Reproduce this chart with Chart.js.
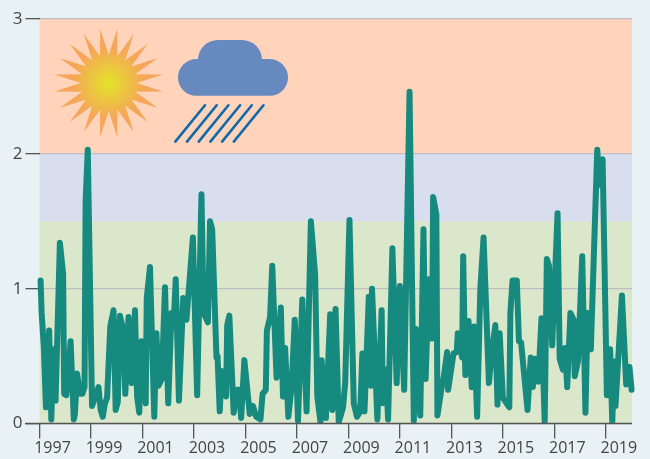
<!DOCTYPE html>
<html><head><meta charset="utf-8">
<style>html,body{margin:0;padding:0;background:#e8f1f3}canvas{display:block}</style>
<script src="https://cdn.jsdelivr.net/npm/chart.js@4"></script></head>
<body><canvas id="c" width="650" height="459"></canvas>
<script>
const tickYears=["1997","1999","2001","2003","2005","2007","2009","2011","2013","2015","2017","2019"];
const yTicks=[0,1,2,3];
const bandEdges=[0,1.5,2,3];
const bandColors=["#dbe7cb","#d9deee","#ffd4bb"];
// months since January 1997
const months=[0.5,1,2,3,4.5,5.5,6.5,7.5,9.5,11,11.5,12.5,14.5,16,16.5,17.5,19,20,21,21.5,22.5,24.5,26,27.5,28.5,29.5,30.5,31.5,33,34.5,35.5,36.5,37.5,39,40,41.5,43,43.5,44.5,45.5,46.5,47.5,48.5,49.5,50,51.5,53.5,54.5,55.5,57,58.5,60,61.5,62.5,63.5,65,67,68.5,71.5,73.5,75.5,76.5,78.5,79.5,80.5,82.5,83,84,85,87,87.5,88.5,90.5,92,93,94,95.5,98,99.5,101,103,104,105.5,106,107.5,108.5,110.5,112.5,113.5,114.5,116,117.5,119,120.5,122.5,124.5,126.5,128.5,129.5,131,131.5,133.5,135.5,136.5,138,139.5,141.5,142.5,144.5,146.5,148,149.5,150.5,151.5,153.5,154.5,155,157.5,159.5,160,161.5,162.5,164.5,166.5,168,170,172.5,174.5,175.5,177.5,179,180,181.5,183,183.5,185,185.5,187.5,188.5,190,190.5,193,194.5,195,197,197.5,198.5,200,201.5,202.5,204,205.5,207,209.5,211,212.5,213.5,214.5,216,219,219.5,220.5,222.5,223.5,224.5,227.5,229,230,231,232.5,234,235.5,236.5,237.5,239,241.5,242.5,244,245,246,247.5,249,249.5,251,253,254.5,255.5,257,260,261,262.5,264.5,266,267,268,268.5,271.5,273.5,275,276];
const rainfall=[1.06,.82,.57,.12,.69,.03,.55,.17,1.34,1.11,.22,.21,.61,.03,.07,.37,.22,.22,.27,1.65,2.03,.13,.2,.27,.1,.05,.15,.19,.72,.84,.1,.16,.8,.7,.22,.79,.3,.31,.84,.2,.08,.61,.6,.15,.93,1.16,.05,.67,.28,.33,1.01,.15,.82,.72,1.07,.17,.93,.77,1.38,.21,1.7,.82,.75,1.5,1.44,.49,.5,.09,.39,.2,.73,.8,.08,.25,.25,.04,.47,.07,.13,.05,.03,.22,.25,.69,.79,1.17,.34,.86,.2,.56,.05,.27,.77,.02,.92,.09,1.5,1.1,.2,.01,.47,.04,.81,.1,.85,.01,.12,.3,1.51,.15,.05,.09,.52,.09,.94,.28,1,.03,.84,.15,.4,.03,1.3,.3,1.02,.25,2.46,.02,.7,.06,1.44,.33,1.07,.63,1.68,1.55,.06,.27,.35,.53,.25,.52,.53,.67,.49,1.24,.36,.76,.27,.72,.05,1,1.38,.3,.55,.73,.14,.67,.19,.12,.82,1.06,1.06,.61,.6,.1,.49,.27,.48,.31,.78,.01,1.22,1.17,.58,1.56,.48,.4,.56,.27,.82,.77,.35,.46,1.24,.08,.82,.55,2.03,1.77,1.96,.21,.55,.01,.46,.13,.95,.29,.42,.25];

const bandsPlugin={id:'bands',beforeDraw(chart){
  const {ctx,chartArea:a,scales:{y}}=chart;
  ctx.save();
  ctx.fillStyle='#e8f1f3';ctx.fillRect(0,0,chart.width,chart.height);
  bandColors.forEach((col,i)=>{
    const t=y.getPixelForValue(bandEdges[i+1]),b=y.getPixelForValue(bandEdges[i]);
    ctx.fillStyle=col;ctx.fillRect(a.left,t,a.right-a.left,b-t);
  });
  ctx.restore();
}};
const iconsPlugin={id:'icons',beforeDatasetsDraw(chart){
  const ctx=chart.ctx;ctx.save();
  const cx=108.7,cy=83,R=55,r=28,n=20;
  const g=ctx.createRadialGradient(cx,cy,0,cx,cy,36);
  g.addColorStop(0,'#e3e32a');g.addColorStop(1,'#f5a658');
  ctx.fillStyle=g;ctx.beginPath();
  for(let i=0;i<n;i++){
    const a1=(i*18+9-90)*Math.PI/180,a2=a1+9*Math.PI/180;
    ctx.lineTo(cx+R*Math.cos(a1),cy+R*Math.sin(a1));
    ctx.lineTo(cx+r*Math.cos(a2),cy+r*Math.sin(a2));
  }
  ctx.closePath();ctx.fill();
  ctx.fillStyle='#668abf';ctx.beginPath();
  ctx.roundRect(178,59,110,36.8,18.4);ctx.fill();
  ctx.beginPath();ctx.roundRect(198,40,64,40,[20,20,0,0]);ctx.fill();
  ctx.strokeStyle='#0f69ab';ctx.lineWidth=2.6;ctx.lineCap='round';
  for(let i=0;i<6;i++){
    const d=i*11.7;
    ctx.beginPath();ctx.moveTo(175.3+d,141.6);ctx.lineTo(205+d,105.3);ctx.stroke();
  }
  ctx.restore();
}};
new Chart(document.getElementById('c'),{
  type:'line',
  data:{datasets:[{data:months.map((m,i)=>({x:m,y:rainfall[i]})),borderColor:'#178a80',borderWidth:6,
    pointRadius:0,tension:0,borderCapStyle:'round',borderJoinStyle:'round',clip:{left:3,right:3,top:3,bottom:0}}]},
  options:{responsive:false,animation:false,
    layout:{padding:{top:19,right:18,left:0,bottom:0}},
    plugins:{legend:{display:false},tooltip:{enabled:false}},
    scales:{
      x:{type:'linear',min:0,max:276.2,
        afterFit(s){s.height=35.5;},
        border:{display:false},
        grid:{drawOnChartArea:false,tickColor:'#555',tickLength:15,lineWidth:1.3},
        afterBuildTicks(s){s.ticks=tickYears.map((_,i)=>({value:i*24}));},
        ticks:{autoSkip:false,maxRotation:0,labelOffset:13,padding:0,color:'#444',
          font:{family:'"Open Sans"',size:16},
          callback(v){return tickYears[v/24];}}},
      y:{min:0,max:3,
        afterFit(s){s.width=39.5;},
        border:{display:false},
        grid:{color:'#bdbdc2',tickColor:'#555',tickLength:14,lineWidth:1.3},
        afterBuildTicks(s){s.ticks=yTicks.map(v=>({value:v}));},
        ticks:{padding:3,color:'#444',font:{family:'"Open Sans"',size:17}}}
    }},
  plugins:[bandsPlugin,iconsPlugin,{id:'baseline',afterDatasetsDraw(chart){
    const {ctx,chartArea:a,scales:{y}}=chart,p=y.getPixelForValue(0);
    ctx.save();ctx.strokeStyle='#555';ctx.lineWidth=1.3;ctx.beginPath();ctx.moveTo(25,p);ctx.lineTo(a.right,p);ctx.stroke();ctx.restore();
  }}]
});
</script></body></html>
